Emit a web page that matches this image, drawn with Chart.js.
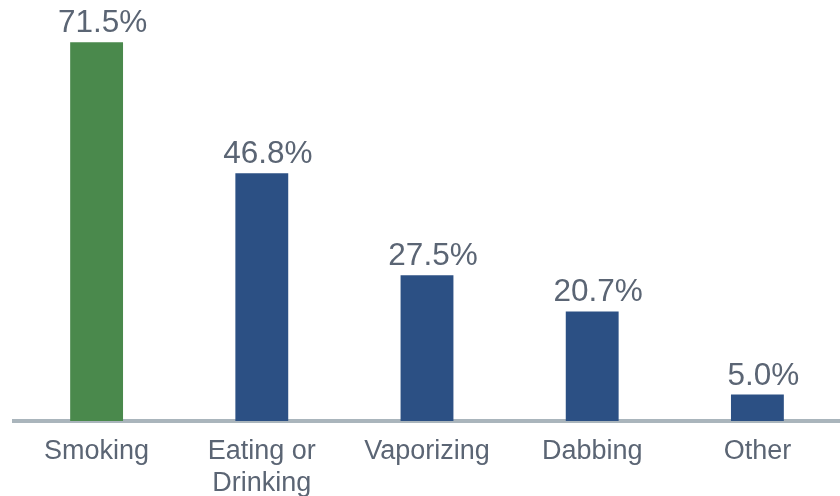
<!DOCTYPE html>
<html>
<head>
<meta charset="utf-8">
<script src="https://cdn.jsdelivr.net/npm/chart.js@4"></script>
<style>
  html, body { margin: 0; padding: 0; background: #fff; }
  #wrap { width: 840px; height: 496px; position: relative; }
</style>
</head>
<body>
<div id="wrap"><canvas id="methods-chart"></canvas></div>
<script>
const categories = ['Smoking', ['Eating or', 'Drinking'], 'Vaporizing', 'Dabbing', 'Other'];
const shares = [71.5, 46.8, 27.5, 20.7, 5.0];
const barColors = ['#4a894c', '#2c5084', '#2c5084', '#2c5084', '#2c5084'];

const textColor = '#5b6574';

// percentage text sitting above each bar
const valueLabels = {
    id: 'valueLabels',
    afterDatasetsDraw(chart) {
        const ctx = chart.ctx;
        const meta = chart.getDatasetMeta(0);
        ctx.save();
        ctx.font = '31.5px "Liberation Sans", Arial, sans-serif';
        ctx.fillStyle = textColor;
        ctx.textAlign = 'center';
        ctx.textBaseline = 'alphabetic';
        meta.data.forEach((bar, i) => {
            ctx.fillText(shares[i].toFixed(1) + '%', bar.x + 6, bar.y - 10);
        });
        ctx.restore();
    }
};

new Chart(
    document.getElementById('methods-chart'),
    {
        type: 'bar',
        data: {
            labels: categories,
            datasets: [
                {
                    data: shares,
                    backgroundColor: barColors,
                    barPercentage: 0.32,
                    categoryPercentage: 1
                }
            ]
        },
        options: {
            responsive: true,
            maintainAspectRatio: false,
            animation: false,
            layout: { padding: { left: 14, right: 0, top: 0, bottom: 0 } },
            plugins: {
                legend: { display: false },
                tooltip: { enabled: false }
            },
            scales: {
                y: {
                    display: false,
                    min: 0,
                    max: 79.5
                },
                x: {
                    afterFit: (axis) => { axis.height = 75; },
                    grid: { display: false },
                    border: { display: true, color: '#aab5bc', width: 4 },
                    ticks: {
                        color: textColor,
                        padding: 7,
                        maxRotation: 0,
                        font: { family: '"Liberation Sans", Arial, sans-serif', size: 27, lineHeight: 1.18 }
                    }
                }
            }
        },
        plugins: [valueLabels]
    }
);
</script>
</body>
</html>
